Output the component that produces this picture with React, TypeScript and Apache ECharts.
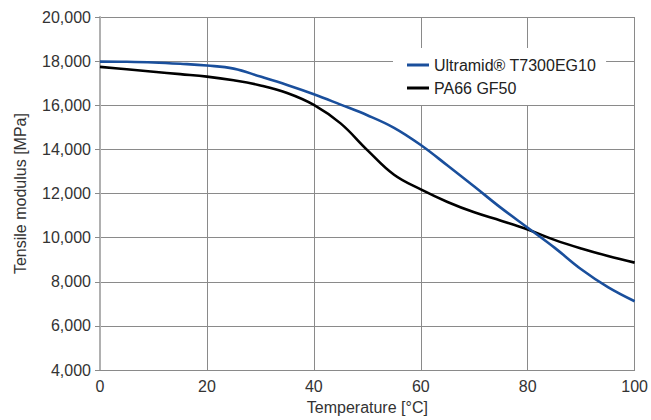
import React, { useEffect, useRef } from "react";
import * as echarts from "echarts";

const temps = [0, 5, 10, 15, 20, 25, 30, 35, 40, 45, 50, 55, 60, 65, 70, 75, 80, 85, 90, 95, 100];
const ultramid = [17980, 17970, 17940, 17880, 17800, 17660, 17300, 16920, 16500, 16030, 15550, 14980, 14200, 13270, 12320, 11350, 10450, 9550, 8570, 7760, 7120];
const pa66 = [17740, 17630, 17520, 17410, 17300, 17130, 16900, 16560, 16020, 15180, 13970, 12850, 12190, 11620, 11150, 10770, 10370, 9900, 9510, 9170, 8870];
const seriesNames = ["Ultramid® T7300EG10", "PA66 GF50"];
const xTitle = "Temperature [°C]";
const yTitle = "Tensile modulus [MPa]";

const FONT = "Liberation Sans, Arial, sans-serif";

export default function App() {
  const ref = useRef<HTMLDivElement>(null);
  useEffect(() => {
    const chart = echarts.init(ref.current!, null, { renderer: "svg" });
    chart.setOption({
      animation: false,
      backgroundColor: "#fff",
      textStyle: { fontFamily: FONT },
      grid: { left: 100, right: 15, top: 17, bottom: 45 },
      legend: {
        left: 393,
        top: 48,
        orient: "vertical",
        backgroundColor: "#fff",
        padding: [9, 10, 9, 14],
        itemGap: 7,
        itemWidth: 22,
        itemHeight: 3,
        icon: "rect",
        textStyle: { fontSize: 16, color: "#222", fontFamily: FONT },
        data: seriesNames,
      },
      xAxis: {
        type: "value",
        min: 0,
        max: 100,
        interval: 20,
        name: xTitle,
        nameLocation: "middle",
        nameGap: 28,
        nameTextStyle: { fontSize: 16, color: "#333", fontFamily: FONT },
        axisLine: { show: true, lineStyle: { color: "#8a8a8a", width: 1 } },
        axisTick: { show: false },
        axisLabel: { fontSize: 16, color: "#333", margin: 8, fontFamily: FONT },
        splitLine: { show: true, lineStyle: { color: "#8a8a8a", width: 1 } },
      },
      yAxis: {
        type: "value",
        min: 4000,
        max: 20000,
        interval: 2000,
        name: yTitle,
        nameLocation: "middle",
        nameGap: 72,
        nameTextStyle: { fontSize: 16, color: "#333", fontFamily: FONT },
        axisLine: { show: true, lineStyle: { color: "#b0b0b0", width: 2 } },
        axisTick: { show: true, length: 5, lineStyle: { color: "#8a8a8a" } },
        axisLabel: {
          fontSize: 16,
          color: "#333",
          margin: 9,
          fontFamily: FONT,
          formatter: (v: number) => v.toLocaleString("en-US"),
        },
        splitLine: { show: true, lineStyle: { color: "#8a8a8a", width: 1 } },
      },
      series: [
        {
          name: seriesNames[0],
          type: "line",
          smooth: 0.4,
          symbol: "none",
          lineStyle: { color: "#1a4f9c", width: 2.6 },
          itemStyle: { color: "#1a4f9c" },
          data: temps.map((t, i) => [t, ultramid[i]]),
          z: 3,
        },
        {
          name: seriesNames[1],
          type: "line",
          smooth: 0.4,
          symbol: "none",
          lineStyle: { color: "#000", width: 2.6 },
          itemStyle: { color: "#000" },
          data: temps.map((t, i) => [t, pa66[i]]),
          z: 2,
        },
      ],
    });
    return () => chart.dispose();
  }, []);
  return <div ref={ref} style={{ width: 651, height: 420, position: "absolute", left: 0, top: 0 }} />;
}
